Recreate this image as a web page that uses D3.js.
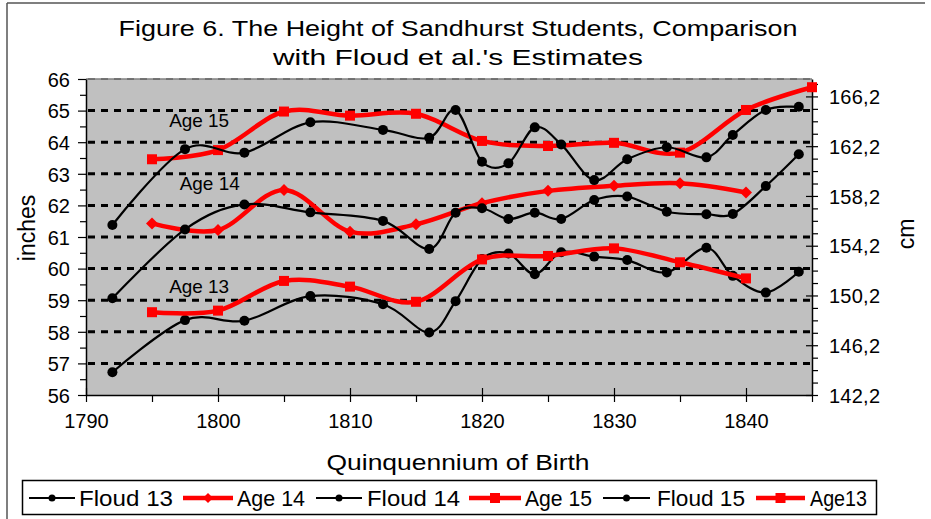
<!DOCTYPE html>
<html>
<head>
<meta charset="utf-8">
<script src="https://cdn.jsdelivr.net/npm/d3@7"></script>
<style>
  html, body { margin: 0; padding: 0; background: #fff; }
  svg { display: block; }
  text { font-family: "Liberation Sans Narrow", "Arial Narrow", "Liberation Sans", Arial, sans-serif; fill: #000; }
</style>
</head>
<body>
<svg id="chart" width="931" height="519"></svg>
<script>
// ---------------- data ----------------
const ageYears15 = [1795, 1800, 1805, 1810, 1815, 1820, 1825, 1830, 1835, 1840, 1845];
const age15 = [63.46, 63.75, 64.97, 64.84, 64.90, 64.04, 63.88, 63.98, 63.67, 65.02, 65.74];
const ageYears = [1795, 1800, 1805, 1810, 1815, 1820, 1825, 1830, 1835, 1840];
const age14 = [61.43, 61.22, 62.49, 61.17, 61.40, 62.07, 62.46, 62.62, 62.70, 62.41];
const age13 = [58.62, 58.67, 59.61, 59.43, 58.95, 60.29, 60.40, 60.64, 60.20, 59.69];
const floudYears = [1792, 1797.5, 1802, 1807, 1812.5, 1816, 1818, 1820, 1822, 1824, 1826, 1828.5, 1831, 1834, 1837, 1839, 1841.5, 1844];
const floud15 = [61.38, 63.78, 63.67, 64.63, 64.39, 64.14, 65.02, 63.38, 63.33, 64.47, 63.93, 62.80, 63.46, 63.84, 63.52, 64.23, 65.02, 65.12];
const floud14 = [59.06, 61.24, 62.03, 61.78, 61.51, 60.62, 61.77, 61.91, 61.57, 61.77, 61.57, 62.17, 62.28, 61.80, 61.72, 61.73, 62.61, 63.62];
const floud13 = [56.72, 58.37, 58.35, 59.13, 58.87, 57.98, 58.97, 60.30, 60.48, 59.82, 60.52, 60.38, 60.27, 59.88, 60.66, 59.77, 59.24, 59.90];

const xTicks = [1790, 1795, 1800, 1805, 1810, 1815, 1820, 1825, 1830, 1835, 1840, 1845];
const xTickLabels = ["1790", "", "1800", "", "1810", "", "1820", "", "1830", "", "1840", ""];
const yTicks = [56, 57, 58, 59, 60, 61, 62, 63, 64, 65, 66];
const cmTickLabels = ["142,2", "146,2", "150,2", "154,2", "158,2", "162,2", "166,2"];

const titleLines = ["Figure 6. The Height of Sandhurst Students, Comparison", "with Floud et al.'s Estimates"];
const seriesNames = ["Floud 13", "Age 14", "Floud 14", "Age 15", "Floud 15", "Age13"];
const inlineLabels = ["Age 15", "Age 14", "Age 13"];
const inlineLabelAt = [[1796.3, 64.47], [1797.1, 62.49], [1796.3, 59.23]];

// ---------------- layout ----------------
const svg = d3.select("#chart");
const L = 86, R = 812, T = 79, B = 395;
const x = d3.scaleLinear().domain([1790, 1845]).range([L, R]);
const y = d3.scaleLinear().domain([56, 66]).range([B, T]);
const yCm = d3.scaleLinear().domain([56 * 2.54, 66 * 2.54]).range([B, T]);

// outer frame (top + left)
svg.append("line").attr("x1", 7).attr("x2", 925).attr("y1", 3).attr("y2", 3).attr("stroke", "#555").attr("stroke-width", 1.5);
svg.append("line").attr("x1", 7).attr("x2", 7).attr("y1", 3).attr("y2", 519).attr("stroke", "#555").attr("stroke-width", 1.5);

// title
titleLines.forEach((t, i) => {
  svg.append("text").attr("x", 458).attr("y", 36 + i * 29).attr("text-anchor", "middle")
    .attr("font-size", 22).attr("textLength", i === 0 ? 679 : 370).attr("lengthAdjust", "spacingAndGlyphs").text(t);
});

// plot area
svg.append("rect").attr("x", L).attr("y", T).attr("width", R - L).attr("height", B - T).attr("fill", "#c0c0c0");
svg.append("line").attr("x1", L).attr("x2", R).attr("y1", T).attr("y2", T).attr("stroke", "#808080").attr("stroke-width", 1.5);

// gridlines
svg.append("g").selectAll("line").data(yTicks.filter(v => v > 56)).join("line")
  .attr("x1", L + 2).attr("x2", R).attr("y1", d => y(d)).attr("y2", d => y(d))
  .attr("stroke", d => d === 66 ? "#666" : "#000").attr("stroke-width", d => d === 66 ? 1.5 : 3)
  .attr("stroke-dasharray", "7,6");

// left axis
const yMinor = d3.range(56, 66.01, 0.5);
const gL = svg.append("g").attr("transform", `translate(${L},0)`)
  .call(d3.axisLeft(y).tickValues(yMinor).tickSize(0).tickFormat(""));
gL.select(".domain").attr("stroke", "#000").attr("stroke-width", 1.5);
gL.selectAll(".tick line").remove();
gL.selectAll(".tick").append("line")
  .attr("x1", d => Number.isInteger(d) ? -8 : -6).attr("x2", 0).attr("stroke", "#000").attr("stroke-width", 1.2);
gL.selectAll(".tick").filter(d => Number.isInteger(d)).append("text")
  .attr("x", -16).attr("dy", "0.36em").attr("text-anchor", "end").attr("font-size", 20).attr("fill", "#000")
  .text(d => String(d));

// right axis (cm)
const cmTicks = d3.range(0, 26).map(k => 142.24 + k);
const gR = svg.append("g").attr("transform", `translate(${R},0)`)
  .call(d3.axisRight(yCm).tickValues(cmTicks).tickSize(0).tickFormat(""));
gR.select(".domain").attr("stroke", "#000").attr("stroke-width", 1.5);
gR.selectAll(".tick line").remove();
gR.selectAll(".tick").append("line")
  .attr("x1", (d, i) => i % 4 === 0 ? -6 : 0).attr("x2", 6).attr("stroke", "#000").attr("stroke-width", 1.2);
gR.selectAll(".tick").filter((d, i) => i % 4 === 0).append("text")
  .attr("x", 17).attr("dy", "0.36em").attr("text-anchor", "start").attr("font-size", 20).attr("fill", "#000")
  .attr("textLength", 51).attr("lengthAdjust", "spacing")
  .text((d, i) => cmTickLabels[i]);

// bottom axis
const gB = svg.append("g").attr("transform", `translate(0,${B})`)
  .call(d3.axisBottom(x).tickValues(xTicks).tickSize(0).tickFormat(""));
gB.select(".domain").attr("stroke", "#000").attr("stroke-width", 1.5);
gB.selectAll(".tick line").remove();
gB.selectAll(".tick").append("line")
  .attr("y1", (d, i) => i % 2 === 0 ? -7 : 0).attr("y2", 7).attr("stroke", "#000").attr("stroke-width", 1.2);
gB.selectAll(".tick").append("text")
  .attr("y", 33).attr("text-anchor", "middle").attr("font-size", 20).attr("fill", "#000")
  .text((d, i) => xTickLabels[i]);

// axis titles
svg.append("text").attr("x", 458).attr("y", 470).attr("text-anchor", "middle").attr("font-size", 22)
  .attr("textLength", 263).attr("lengthAdjust", "spacingAndGlyphs").text("Quinquennium of Birth");
svg.append("text").attr("transform", "translate(35,228) rotate(-90)").attr("text-anchor", "middle")
  .attr("font-size", 23).text("inches");
svg.append("text").attr("transform", "translate(914,234) rotate(-90)").attr("text-anchor", "middle")
  .attr("font-size", 23).text("cm");

// ---------------- series ----------------
const curve = d3.curveCatmullRom.alpha(0);
const plot = svg.append("g");

function drawSeries(xs, ys, color, width, marker) {
  const pts = xs.map((d, i) => [x(d), y(ys[i])]);
  plot.append("path").attr("d", d3.line().curve(curve)(pts)).attr("fill", "none")
    .attr("stroke", color).attr("stroke-width", width).attr("stroke-linejoin", "round");
  const g = plot.append("g");
  pts.forEach(p => {
    if (marker === "circle") g.append("circle").attr("cx", p[0]).attr("cy", p[1]).attr("r", 5).attr("fill", "#000");
    else if (marker === "square") g.append("rect").attr("x", p[0] - 5).attr("y", p[1] - 5).attr("width", 10).attr("height", 10).attr("fill", color);
    else if (marker === "diamond") g.append("path").attr("d", `M${p[0]},${p[1] - 6}L${p[0] + 6},${p[1]}L${p[0]},${p[1] + 6}L${p[0] - 6},${p[1]}Z`).attr("fill", color);
  });
}
const RED = "#ff0000";
drawSeries(floudYears, floud13, "#000", 2.2, "circle");
drawSeries(ageYears, age14, RED, 4.5, "diamond");
drawSeries(floudYears, floud14, "#000", 2.2, "circle");
drawSeries(ageYears15, age15, RED, 4.5, "square");
drawSeries(floudYears, floud15, "#000", 2.2, "circle");
drawSeries(ageYears, age13, RED, 4.5, "square");

// inline labels
inlineLabels.forEach((t, i) => {
  const [yr, v] = inlineLabelAt[i];
  svg.append("text").attr("x", x(yr)).attr("y", y(v)).attr("font-size", 19)
    .attr("textLength", 60).attr("lengthAdjust", "spacingAndGlyphs").attr("fill", "#111").text(t);
});

// ---------------- legend ----------------
svg.append("rect").attr("x", 22.5).attr("y", 480.5).attr("width", 854).attr("height", 34)
  .attr("fill", "#fff").attr("stroke", "#000").attr("stroke-width", 1.5);
const legendPos = [[29, 75, 79, 94], [183, 233, 237, 68], [316, 362, 367, 93], [469, 521, 525, 67], [603, 650, 657, 88], [756, 805, 810, 57]];
const legendStyle = [["#000", 2, "circle"], [RED, 4.5, "diamond"], ["#000", 2, "circle"], [RED, 4.5, "square"], ["#000", 2, "circle"], [RED, 4.5, "square"]];
const ly = 498;
seriesNames.forEach((name, i) => {
  const [x1, x2, tx, tw] = legendPos[i];
  const [c, w, m] = legendStyle[i];
  const cx = (x1 + x2) / 2;
  svg.append("line").attr("x1", x1).attr("x2", x2).attr("y1", ly).attr("y2", ly).attr("stroke", c).attr("stroke-width", w);
  if (m === "circle") svg.append("circle").attr("cx", cx).attr("cy", ly).attr("r", 3.5).attr("fill", c);
  else if (m === "square") svg.append("rect").attr("x", cx - 5).attr("y", ly - 5).attr("width", 10).attr("height", 10).attr("fill", c);
  else svg.append("path").attr("d", `M${cx},${ly - 5}L${cx + 5},${ly}L${cx},${ly + 5}L${cx - 5},${ly}Z`).attr("fill", c);
  svg.append("text").attr("x", tx).attr("y", 506).attr("font-size", 22)
    .attr("textLength", tw).attr("lengthAdjust", "spacingAndGlyphs").text(name);
});
</script>
</body>
</html>
